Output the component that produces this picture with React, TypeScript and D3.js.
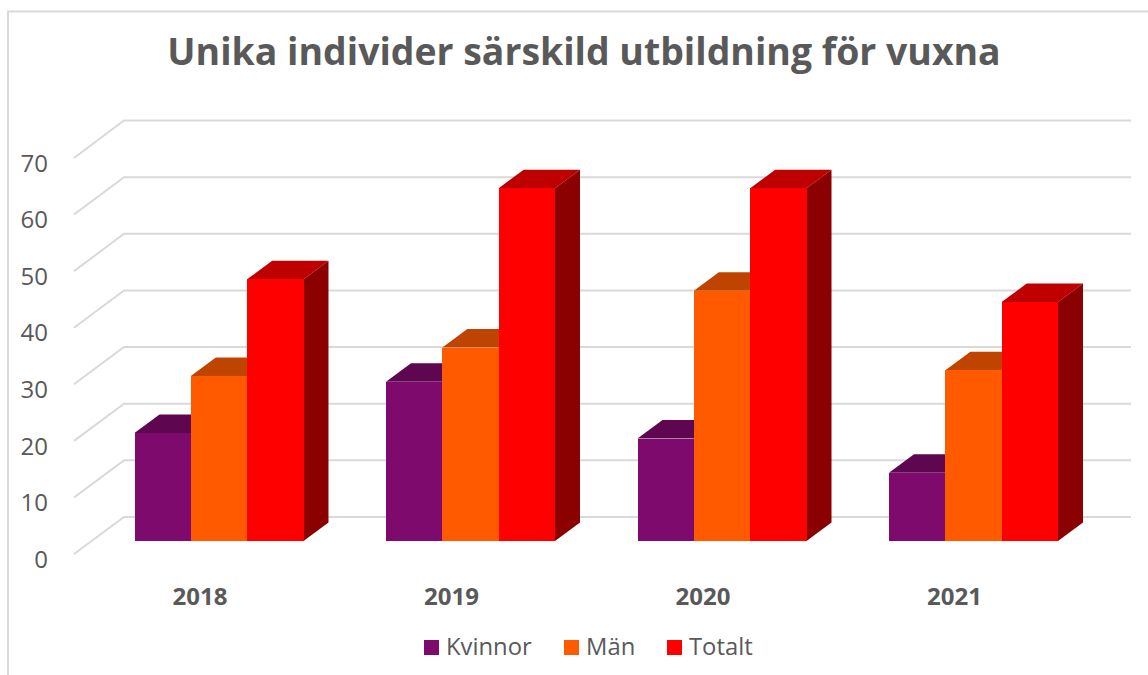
import React from "react";
import * as d3 from "d3";

const years = ["2018", "2019", "2020", "2021"];
const seriesNames = ["Kvinnor", "Män", "Totalt"];
const kvinnor = [19, 28, 18, 12];
const man = [29, 34, 44, 30];
const totalt = [46, 62, 62, 42];
const ticks = [0, 10, 20, 30, 40, 50, 60, 70];
const frontColors = ["#7f0a6e", "#ff5a00", "#ff0000"];
const topColors = ["#5e0650", "#bf4400", "#bf0000"];
const sideColors = ["#54044a", "#8b3000", "#8b0000"];
const legendX = [424, 564, 667];

const FONT = "'Open Sans', 'Noto Sans', sans-serif";
const TEXT = "#595959";
const GRID = "#d9d9d9";

export default function App() {
  const seriesValues = [kvinnor, man, totalt];
  const yBar = d3.scaleLinear().domain([0, 70]).range([541, 142.7]);
  const yBack = d3.scaleLinear().domain([0, 70]).range([517, 120.5]);
  const yFront = d3.scaleLinear().domain([0, 70]).range([554, 158]);
  const yLabel = d3.scaleLinear().domain([0, 70]).range([568, 171.5]);
  const groupX = d3.scaleLinear().domain([0, 3]).range([134.5, 889]);
  const inner = d3.scaleBand<number>().domain([0, 1, 2]).range([0, 169]);
  const dx = 25;
  const dy = 18.5;
  const line = d3.line();
  const poly = (p: [number, number][]) => line(p) + "Z";

  return (
    <svg width={1148} height={675} style={{ position: "absolute", left: 0, top: 0, background: "#fff" }} fontFamily={FONT}>
      <path d="M8,675V11.5H1148" fill="none" stroke={GRID} strokeWidth={2} />
      <text x={584} y={65} textAnchor="middle" fontSize={37.4} fontWeight={700} fill={TEXT}>
        Unika individer särskild utbildning för vuxna
      </text>
      {ticks.map((t) => (
        <g key={t}>
          <path
            d={line([[74, yFront(t)], [124, yBack(t)], [1131, yBack(t)]]) as string}
            fill="none"
            stroke={GRID}
            strokeWidth={2}
          />
          <text x={48} y={yLabel(t)} textAnchor="end" fontSize={24} fill={TEXT}>{t}</text>
        </g>
      ))}
      {years.map((year, yi) => (
        <g key={year}>
          {seriesValues.map((vals, si) => {
            const x0 = groupX(yi) + (inner(si) as number);
            const x1 = x0 + inner.bandwidth();
            const top = yBar(vals[yi]);
            const base = yBar(0);
            return (
              <g key={si}>
                <path d={poly([[x0, top], [x0 + dx, top - dy], [x1 + dx, top - dy], [x1, top]])} fill={topColors[si]} />
                <path d={poly([[x1, top], [x1 + dx, top - dy], [x1 + dx, base - dy], [x1, base]])} fill={sideColors[si]} />
                <rect x={x0} y={top} width={inner.bandwidth()} height={base - top} fill={frontColors[si]} shapeRendering="crispEdges" />
              </g>
            );
          })}
          <text x={groupX(yi) + 65.5} y={605} textAnchor="middle" fontSize={24} fontWeight={700} fill={TEXT}>{year}</text>
        </g>
      ))}
      {seriesNames.map((name, i) => (
        <g key={name}>
          <rect x={legendX[i]} y={640} width={15} height={15} fill={frontColors[i]} />
          <text x={legendX[i] + 22} y={655} fontSize={23.8} fill={TEXT}>{name}</text>
        </g>
      ))}
    </svg>
  );
}
